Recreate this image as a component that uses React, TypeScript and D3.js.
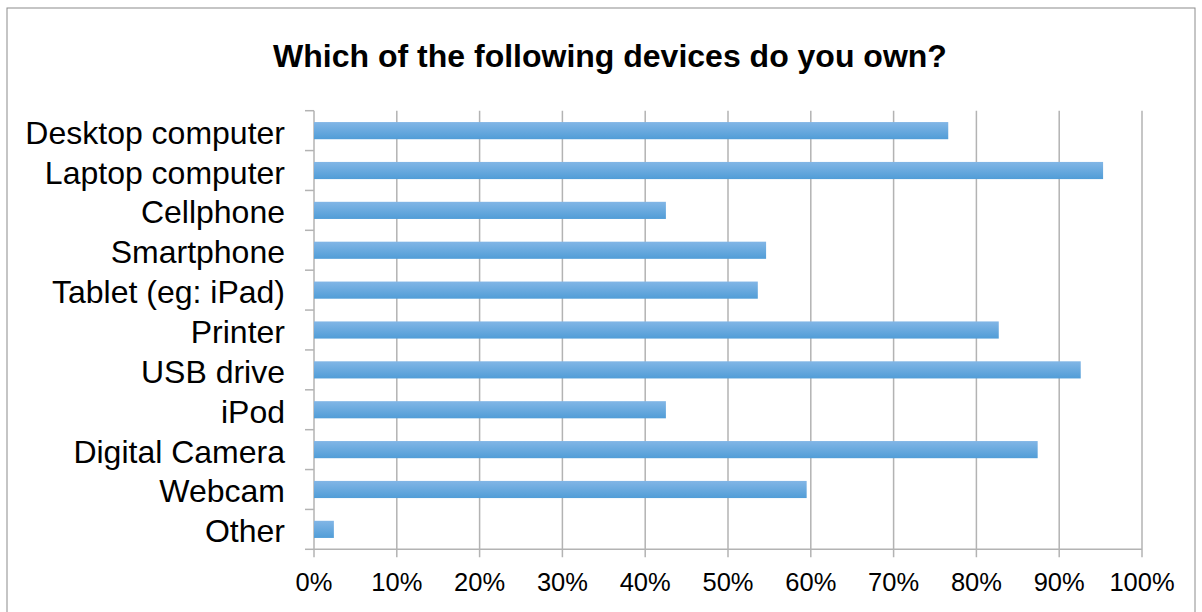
import React from "react";
import * as d3 from "d3";

const categories = [
  "Desktop computer",
  "Laptop computer",
  "Cellphone",
  "Smartphone",
  "Tablet (eg: iPad)",
  "Printer",
  "USB drive",
  "iPod",
  "Digital Camera",
  "Webcam",
  "Other",
];
const values = [76.6, 95.3, 42.5, 54.6, 53.6, 82.7, 92.6, 42.5, 87.4, 59.5, 2.4];
const xTicks = [0, 10, 20, 30, 40, 50, 60, 70, 80, 90, 100];
const title = "Which of the following devices do you own?";

export default function App() {
  const W = 1202, H = 612;
  const left = 314, right = 1142, top = 110.7, bottom = 549.3;
  const x = d3.scaleLinear().domain([0, 100]).range([left, right]);
  const y = d3.scaleBand<string>().domain(categories).range([top, bottom]).paddingInner(0.57).paddingOuter(0.285);
  const font = "Arial, 'Liberation Sans', sans-serif";
  const grid = "#b3b3b3";
  const bandStep = (bottom - top) / categories.length;
  return (
    <svg width={W} height={H} style={{ position: "absolute", left: 0, top: 0 }}>
      <defs>
        <linearGradient id="barg" x1="0" y1="0" x2="0" y2="1">
          <stop offset="0" stopColor="#82b6e6" />
          <stop offset="1" stopColor="#519dd7" />
        </linearGradient>
      </defs>
      <rect x={0} y={0} width={W} height={H} fill="#fff" />
      <rect x={7} y={8} width={1188} height={620} fill="#fff" stroke="#8c8c8c" strokeWidth={1} />
      <text x={610} y={66.5} textAnchor="middle" fontFamily={font} fontWeight="bold" fontSize={32} fill="#000">
        {title}
      </text>
      {xTicks.map((t) => (
        <line key={"g" + t} x1={x(t)} x2={x(t)} y1={top} y2={bottom + 8} stroke={grid} strokeWidth={1.5} />
      ))}
      <line x1={left} x2={right} y1={bottom} y2={bottom} stroke={grid} strokeWidth={1.5} />
      {d3.range(categories.length + 1).map((i) => (
        <line key={"yt" + i} x1={left - 9} x2={left} y1={top + i * bandStep} y2={top + i * bandStep} stroke={grid} strokeWidth={1.5} />
      ))}
      {categories.map((c, i) => (
        <rect key={c} x={x(0)} y={y(c)} width={x(values[i]) - x(0)} height={y.bandwidth()} fill="url(#barg)" />
      ))}
      {categories.map((c) => (
        <text key={"l" + c} x={285} y={(y(c) as number) + y.bandwidth() / 2 + 13} textAnchor="end" fontFamily={font} fontSize={32} fill="#000">
          {c}
        </text>
      ))}
      {xTicks.map((t) => (
        <text key={"t" + t} x={x(t)} y={591} textAnchor="middle" fontFamily={font} fontSize={25.5} fill="#000">
          {t + "%"}
        </text>
      ))}
    </svg>
  );
}
